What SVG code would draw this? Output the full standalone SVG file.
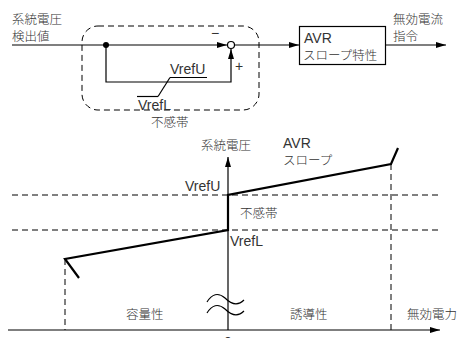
<svg xmlns="http://www.w3.org/2000/svg" width="459" height="338" viewBox="0 0 459 338">
<defs>
<marker id="arr" viewBox="0 0 10 6" refX="10" refY="3" markerWidth="10" markerHeight="6" markerUnits="userSpaceOnUse" orient="auto">
<path d="M0,0 L10,3 L0,6 Z" fill="#000"/>
</marker>
</defs>
<style>
text{font-family:"Noto Sans CJK JP","Liberation Sans",sans-serif;font-size:12.5px;font-weight:300;fill:#333}
.lat{font-family:"Liberation Sans","Noto Sans CJK JP",sans-serif;font-size:14px;font-weight:400}
.ln{stroke:#000;stroke-width:1.2;fill:none}
.thk{stroke:#000;stroke-width:2.2;fill:none}
.dash{stroke:#000;stroke-width:1;fill:none;stroke-dasharray:6 4}
</style>
<rect width="459" height="338" fill="#fff"/>

<g id="input-label">
<text x="12" y="24">系統電圧</text>
<text x="12" y="41">検出値</text>
</g>
<g id="deadband-block">
<rect x="82" y="26" width="177" height="84" rx="16" ry="16" class="dash"/>
<text x="151" y="127">不感帯</text>
<text class="lat" x="170" y="74">VrefU</text>
<line x1="170" y1="77.5" x2="207" y2="77.5" class="ln" stroke-width="1"/>
<text class="lat" x="138" y="110">VrefL</text>
<line x1="137" y1="96.5" x2="158" y2="96.5" class="ln" stroke-width="1"/>
<line x1="158" y1="96.5" x2="170" y2="77.5" class="ln" stroke-width="1"/>
</g>
<g id="junction">
<circle cx="231" cy="45" r="3.5" fill="#fff" stroke="#000" stroke-width="1.2"/>
<text class="lat" x="211" y="38">−</text>
<text class="lat" x="235" y="71">+</text>
</g>
<g id="avr-box">
<rect x="299.5" y="26.5" width="86" height="38" fill="#fff" stroke="#000" stroke-width="1.2"/>
<text class="lat" x="304" y="43">AVR</text>
<text x="303" y="60">スロープ特性</text>
</g>
<g id="output-label">
<text x="393" y="24">無効電流</text>
<text x="393" y="41">指令</text>
</g>
<g id="connectors">
<line x1="12" y1="45" x2="227" y2="45" class="ln" marker-end="url(#arr)"/>
<circle cx="106" cy="45" r="3" fill="#000"/>
<polyline points="106,45 106,82 231,82 231,49" class="ln" marker-end="url(#arr)"/>
<line x1="234.5" y1="45" x2="299" y2="45" class="ln" marker-end="url(#arr)"/>
<line x1="386" y1="45" x2="446" y2="45" class="ln" marker-end="url(#arr)"/>
</g>

<g id="chart">
<line x1="228" y1="330" x2="228" y2="157" class="ln" marker-end="url(#arr)"/>
<line x1="8" y1="330" x2="440" y2="330" class="ln" marker-end="url(#arr)"/>
<line x1="12" y1="195" x2="442" y2="195" class="dash"/>
<line x1="12" y1="230" x2="442" y2="230" class="dash"/>
<line x1="65" y1="259" x2="65" y2="330" class="dash"/>
<line x1="391" y1="164" x2="391" y2="330" class="dash"/>
<polyline points="79,278 65,259 228,230 228,195 391,164 398,148" class="thk" stroke-linejoin="miter"/>
<path d="M207,302 C212,294 218,292 225,298 C232,305 238,306 244,300" class="ln" stroke-width="1"/>
<path d="M207,313 C212,305 218,303 225,309 C232,316 238,317 244,311" class="ln" stroke-width="1"/>
<text x="201" y="150">系統電圧</text>
<text class="lat" x="283" y="148">AVR</text>
<text x="283" y="165">スロープ</text>
<text class="lat" x="185" y="191">VrefU</text>
<text x="240" y="218">不感帯</text>
<text class="lat" x="230" y="246">VrefL</text>
<text x="126" y="319">容量性</text>
<text x="290" y="319">誘導性</text>
<text x="407" y="319">無効電力</text>
<text class="lat" x="224" y="347">0</text>
</g>
</svg>
